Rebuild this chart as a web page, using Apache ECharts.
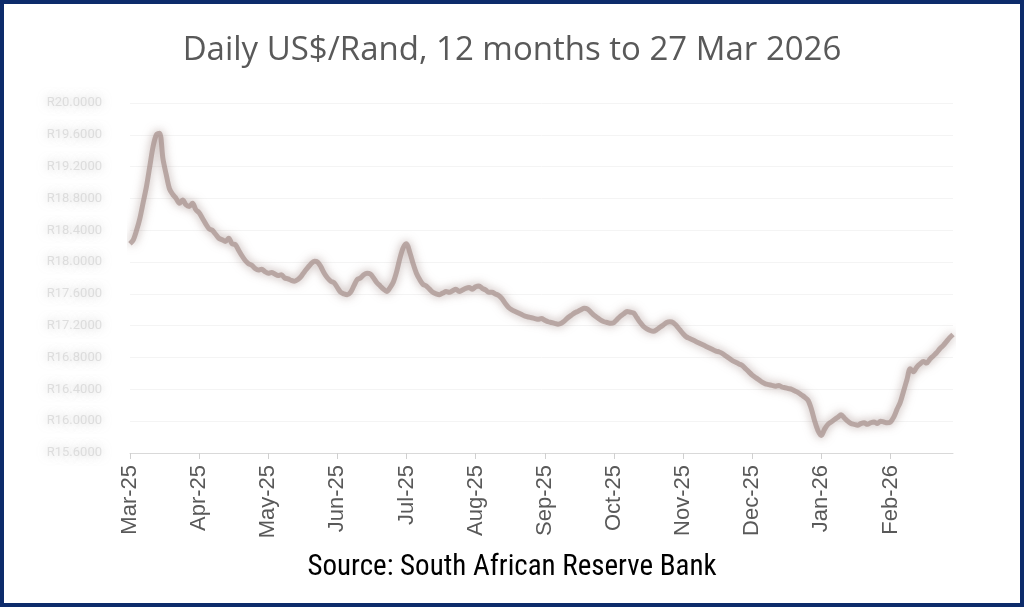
<!DOCTYPE html>
<html>
<head>
<meta charset="utf-8">
<script src="https://cdn.jsdelivr.net/npm/echarts@6/dist/echarts.min.js"></script>
<style>
  html, body { margin: 0; padding: 0; background: #fff; }
  #frame {
    position: absolute; left: 0; top: 0;
    width: 1024px; height: 607px;
    box-sizing: border-box;
    border: 4px solid #0d2b6b;
    background: #fff;
  }
  #chart { width: 1016px; height: 599px; }
</style>
</head>
<body>
<div id="frame"><div id="chart"></div></div>
<script>
// month labels shown on the x axis, one every 21 trading days
var monthLabels = ['Mar-25', 'Apr-25', 'May-25', 'Jun-25', 'Jul-25', 'Aug-25',
  'Sep-25', 'Oct-25', 'Nov-25', 'Dec-25', 'Jan-26', 'Feb-26'];
var labelStep = 21;

// y axis ticks (R per US$)
var yMin = 15.6;
var yMax = 20.0;
var yStep = 0.4;

// daily US$/Rand, 27 Mar 2025 .. 27 Mar 2026
var usdZar = [
  18.23, 18.28, 18.40, 18.55, 18.75, 18.95, 19.20, 19.45, 19.60, 19.62,
  19.30, 19.10, 18.92, 18.85, 18.80, 18.74, 18.78, 18.72, 18.70, 18.74,
  18.66, 18.62, 18.55, 18.48, 18.42, 18.40, 18.35, 18.30, 18.28, 18.26,
  18.30, 18.23, 18.22, 18.15, 18.08, 18.02, 17.98, 17.96, 17.92, 17.90,
  17.91, 17.88, 17.86, 17.87, 17.85, 17.83, 17.84, 17.80, 17.79, 17.77,
  17.76, 17.78, 17.82, 17.88, 17.93, 17.98, 18.01, 18.00, 17.94, 17.86,
  17.80, 17.76, 17.74, 17.68, 17.62, 17.60, 17.59, 17.62, 17.70, 17.78,
  17.80, 17.84, 17.86, 17.85, 17.80, 17.74, 17.70, 17.66, 17.63, 17.68,
  17.75, 17.88, 18.05, 18.18, 18.23, 18.12, 17.98, 17.86, 17.78, 17.72,
  17.70, 17.66, 17.62, 17.60, 17.59, 17.61, 17.63, 17.62, 17.64, 17.66,
  17.63, 17.65, 17.67, 17.68, 17.66, 17.69, 17.70, 17.67, 17.65, 17.62,
  17.62, 17.60, 17.58, 17.54, 17.48, 17.43, 17.40, 17.38, 17.36, 17.34,
  17.32, 17.31, 17.30, 17.29, 17.28, 17.29, 17.27, 17.25, 17.24, 17.23,
  17.22, 17.23, 17.26, 17.30, 17.33, 17.36, 17.38, 17.40, 17.42, 17.41,
  17.37, 17.33, 17.30, 17.27, 17.25, 17.24, 17.23, 17.24, 17.28, 17.32,
  17.35, 17.38, 17.37, 17.36, 17.30, 17.24, 17.19, 17.16, 17.14, 17.13,
  17.15, 17.18, 17.21, 17.24, 17.25, 17.24, 17.20, 17.15, 17.10, 17.06,
  17.04, 17.02, 17.00, 16.98, 16.96, 16.94, 16.92, 16.90, 16.88, 16.87,
  16.85, 16.82, 16.79, 16.76, 16.74, 16.72, 16.70, 16.66, 16.62, 16.58,
  16.55, 16.52, 16.49, 16.47, 16.46, 16.45, 16.44, 16.45, 16.43, 16.42,
  16.41, 16.40, 16.38, 16.36, 16.33, 16.30, 16.26, 16.15, 16.00, 15.88,
  15.82, 15.90, 15.96, 15.99, 16.02, 16.05, 16.08, 16.04, 16.00, 15.97,
  15.96, 15.95, 15.97, 15.98, 15.96, 15.98, 15.99, 15.97, 16.00, 15.99,
  15.98, 15.99, 16.05, 16.15, 16.24, 16.38, 16.52, 16.66, 16.62, 16.68,
  16.72, 16.75, 16.73, 16.78, 16.82, 16.86, 16.91, 16.95, 17.00, 17.05,
  17.09
];

var days = usdZar.map(function (v, i) { return String(i); });

var chart = echarts.init(document.getElementById('chart'));

var option = {
  backgroundColor: '#fff',
  animation: false,
  title: {
    text: 'Daily US$/Rand, 12 months to 27 Mar 2026',
    left: 'center',
    top: 25,
    textStyle: {
      fontFamily: 'Open Sans',
      fontWeight: 'normal',
      fontSize: 33,
      color: '#595959'
    }
  },
  graphic: [{
    type: 'text',
    left: 'center',
    top: 549,
    style: {
      text: 'Source: South African Reserve Bank',
      fontFamily: 'Liberation Sans Narrow, Roboto Condensed, Roboto',
      fontSize: 29,
      fill: '#000'
    }
  }],
  grid: {
    left: 126,
    right: 67,
    top: 99,
    bottom: 150
  },
  xAxis: {
    type: 'category',
    data: days,
    boundaryGap: false,
    axisLine: { lineStyle: { color: '#d9d9d9', width: 1 } },
    axisTick: {
      interval: labelStep - 1,
      length: 6,
      lineStyle: { color: '#d0d0d0' }
    },
    axisLabel: {
      interval: labelStep - 1,
      rotate: 90,
      margin: 12,
      fontFamily: 'Liberation Sans',
      fontSize: 22,
      color: '#595959',
      formatter: function (value, index) {
        return monthLabels[Math.round(index / labelStep)] || '';
      }
    },
    splitLine: { show: false }
  },
  yAxis: {
    type: 'value',
    min: yMin,
    max: yMax,
    interval: yStep,
    axisLine: { show: false },
    axisTick: { show: false },
    axisLabel: {
      margin: 28,
      fontSize: 13,
      fontFamily: 'Roboto',
      color: 'rgba(205,205,205,0.6)',
      textShadowColor: 'rgba(170,170,170,1)',
      textShadowBlur: 10,
      formatter: function (v) { return 'R' + v.toFixed(4); }
    },
    splitLine: { lineStyle: { color: '#f4f4f4', width: 1 } }
  },
  series: [{
    name: 'US$/Rand',
    type: 'line',
    data: usdZar,
    showSymbol: false,
    smooth: 0.3,
    lineStyle: {
      color: 'rgba(165,143,138,0.7)',
      width: 5,
      shadowColor: 'rgba(150,125,120,0.9)',
      shadowBlur: 10
    }
  }]
};

chart.setOption(option);
</script>
</body>
</html>
